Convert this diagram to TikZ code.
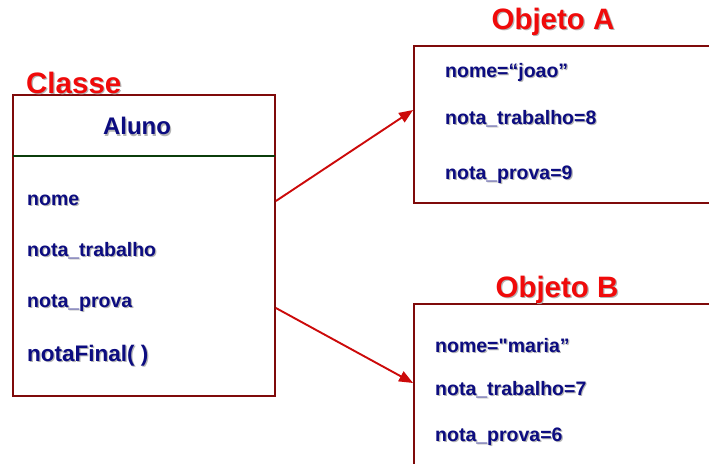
\documentclass[tikz,border=0pt]{standalone}
\usepackage{fontspec}
\setmainfont{Liberation Sans}[Ligatures=TeXOff]
\usetikzlibrary{arrows.meta}
\definecolor{boxred}{HTML}{7F0A0A}
\definecolor{divgreen}{HTML}{0B3D0B}
\definecolor{txtblue}{HTML}{0C0C80}
\definecolor{titlered}{HTML}{F00A0A}
\definecolor{linkred}{HTML}{CC0A0A}
\definecolor{shade}{HTML}{B4B4B4}
% text with a soft drop shadow
\newcommand{\shd}[1]{\leavevmode\rlap{\hspace{1.2pt}\raisebox{-1.2pt}{\textcolor{shade}{#1}}}#1}
\tikzset{
  panel/.style={draw=boxred, line width=1.8pt, fill=white, inner sep=0pt},
  title/.style={text=titlered, font=\bfseries\fontsize{29.5}{32}\selectfont, inner sep=0pt},
  attr/.style={text=txtblue, font=\bfseries\fontsize{19.5}{22}\selectfont, anchor=west, inner sep=0pt},
  link/.style={draw=linkred, line width=1.9pt, -{Triangle[length=14pt,width=11pt]}}
}
\begin{document}
\begin{tikzpicture}[x=1pt,y=-1pt]
\useasboundingbox (0,0) rectangle (709,463);
\clip (0,0) rectangle (709,463);
% class box
\node[panel, minimum width=262pt, minimum height=301pt] (cls) at (144,245.5) {};
\draw[divgreen, line width=1.5pt] (13,156) -- (275,156);
\node[title, anchor=base west] (clsT) at (26,93) {\shd{Classe}};
\node[text=txtblue, font=\bfseries\fontsize{24}{28}\selectfont] (clsN) at (137,127) {\shd{Aluno}};
\node[attr] (a1) at (27,201) {\shd{nome}};
\node[attr] (a2) at (27,251) {\shd{nota\_trabalho}};
\node[attr] (a3) at (27,304) {\shd{nota\_prova}};
\node[attr, font=\bfseries\fontsize{22.5}{26}\selectfont] (a4) at (27,356) {\shd{notaFinal( )}};
% object A
\node[panel, minimum width=320pt, minimum height=157pt] (oA) at (574,124.5) {};
\node[title] (oAT) at (553,22) {\shd{Objeto A}};
\node[attr] (b1) at (445,73) {\shd{nome=“joao”}};
\node[attr] (b2) at (445,119) {\shd{nota\_trabalho=8}};
\node[attr] (b3) at (445,175) {\shd{nota\_prova=9}};
% object B
\node[panel, minimum width=320pt, minimum height=200pt] (oB) at (574,404) {};
\node[title] (oBT) at (557,290) {\shd{Objeto B}};
\node[attr] (c1) at (435,346) {\shd{nome="maria”}};
\node[attr] (c2) at (435,390) {\shd{nota\_trabalho=7}};
\node[attr] (c3) at (435,437) {\shd{nota\_prova=6}};
% links from the class to its objects
\coordinate (s1) at (cls.east |- 0,201);
\coordinate (s2) at (cls.east |- 0,308);
\coordinate (e1) at (oA.west |- 0,110);
\coordinate (e2) at (oB.west |- 0,383);
\draw[link] (s1) -- (e1);
\draw[link] (s2) -- (e2);
\end{tikzpicture}
\end{document}
